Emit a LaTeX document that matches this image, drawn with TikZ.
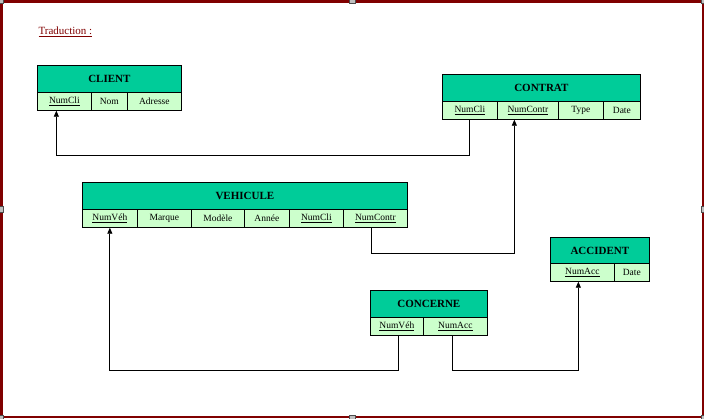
\documentclass[tikz,border=0pt]{standalone}
\usepackage{fontspec}
\setmainfont{Liberation Serif}
\usetikzlibrary{arrows.meta}
\definecolor{framered}{RGB}{128,0,0}
\definecolor{headgreen}{RGB}{0,204,153}
\definecolor{rowgreen}{RGB}{204,255,204}
\newcommand\handle[2]{\node[handlebox] (#1) at (#2) {};}

\begin{document}
\begin{tikzpicture}[
    x=1pt, y=-1pt,
    head/.style={draw,line width=0.7pt,fill=headgreen,anchor=north west,inner sep=0pt,
      minimum height=27pt,font=\fontsize{11}{13}\selectfont\bfseries},
    field/.style={draw,line width=0.7pt,fill=rowgreen,anchor=north west,inner sep=0pt,
      minimum height=18pt,font=\fontsize{9.5}{11}\selectfont},
    link/.style={line width=0.8pt},
    tip/.style={-{Triangle[length=6pt,width=5pt]}},
    handlebox/.style={draw=black!70,fill=black!25,minimum size=6.5pt,inner sep=0pt}
  ]
    \useasboundingbox (0,0) rectangle (704,418);

    % frame
    \draw[framered,line width=2.5pt] (1.25,1.25) rectangle (702.75,416.75);
    \handle{h1}{0,0} \handle{h2}{352,0} \handle{h3}{704,0}
    \handle{h4}{0,209} \handle{h5}{704,209}
    \handle{h6}{0,418} \handle{h7}{352,418} \handle{h8}{704,418}

    \node[anchor=west,text=framered,font=\fontsize{11}{13}\selectfont] (title) at (35,32)
      {\underline{Traduction :}};

    % CLIENT
    \node[head,minimum width=144pt] (client) at (37,65) {CLIENT};
    \node[field,minimum width=54pt] (cliNum) at (37,92) {\underline{NumCli}};
    \node[field,minimum width=36pt] (cliNom) at (91,92) {Nom};
    \node[field,minimum width=54pt] (cliAdr) at (127,92) {Adresse};

    % CONTRAT
    \node[head,minimum width=198pt] (contrat) at (442,74) {CONTRAT};
    \node[field,minimum width=55pt] (ctrNumCli) at (442,101) {\underline{NumCli}};
    \node[field,minimum width=61pt] (ctrNumContr) at (497,101) {\underline{NumContr}};
    \node[field,minimum width=45pt] (ctrType) at (558,101) {Type};
    \node[field,minimum width=37pt] (ctrDate) at (603,101) {Date};

    % VEHICULE
    \node[head,minimum width=325pt] (vehicule) at (82,182) {VEHICULE};
    \node[field,minimum width=55pt] (vehNumVeh) at (82,209) {\underline{NumVéh}};
    \node[field,minimum width=54pt] (vehMarque) at (137,209) {Marque};
    \node[field,minimum width=53pt] (vehModele) at (191,209) {Modèle};
    \node[field,minimum width=45pt] (vehAnnee) at (244,209) {Année};
    \node[field,minimum width=54pt] (vehNumCli) at (289,209) {\underline{NumCli}};
    \node[field,minimum width=64pt] (vehNumContr) at (343,209) {\underline{NumContr}};

    % ACCIDENT
    \node[head,minimum width=99pt] (accident) at (550,237) {ACCIDENT};
    \node[field,minimum width=64pt] (accNumAcc) at (550,263) {\underline{NumAcc}};
    \node[field,minimum width=35pt] (accDate) at (614,263) {Date};

    % CONCERNE
    \node[head,minimum width=117pt] (concerne) at (370,290) {CONCERNE};
    \node[field,minimum width=53pt] (ccnNumVeh) at (370,317) {\underline{NumVéh}};
    \node[field,minimum width=64pt] (ccnNumAcc) at (423,317) {\underline{NumAcc}};

    % references
    \draw[link,tip] (ctrNumCli.south) -- ++(0,36) -| ([xshift=-8pt]cliNum.south);
    \draw[link,tip] ([xshift=-4pt]vehNumContr.south) -- ++(0,26) -| ([xshift=-13.5pt]ctrNumContr.south);
    \draw[link,tip] ([xshift=1.5pt]ccnNumVeh.south) -- ++(0,35) -| (vehNumVeh.south);
    \draw[link,tip] ([xshift=-3pt]ccnNumAcc.south) -- ++(0,35) -| ([xshift=-4pt]accNumAcc.south);
  \end{tikzpicture}
\end{document}
